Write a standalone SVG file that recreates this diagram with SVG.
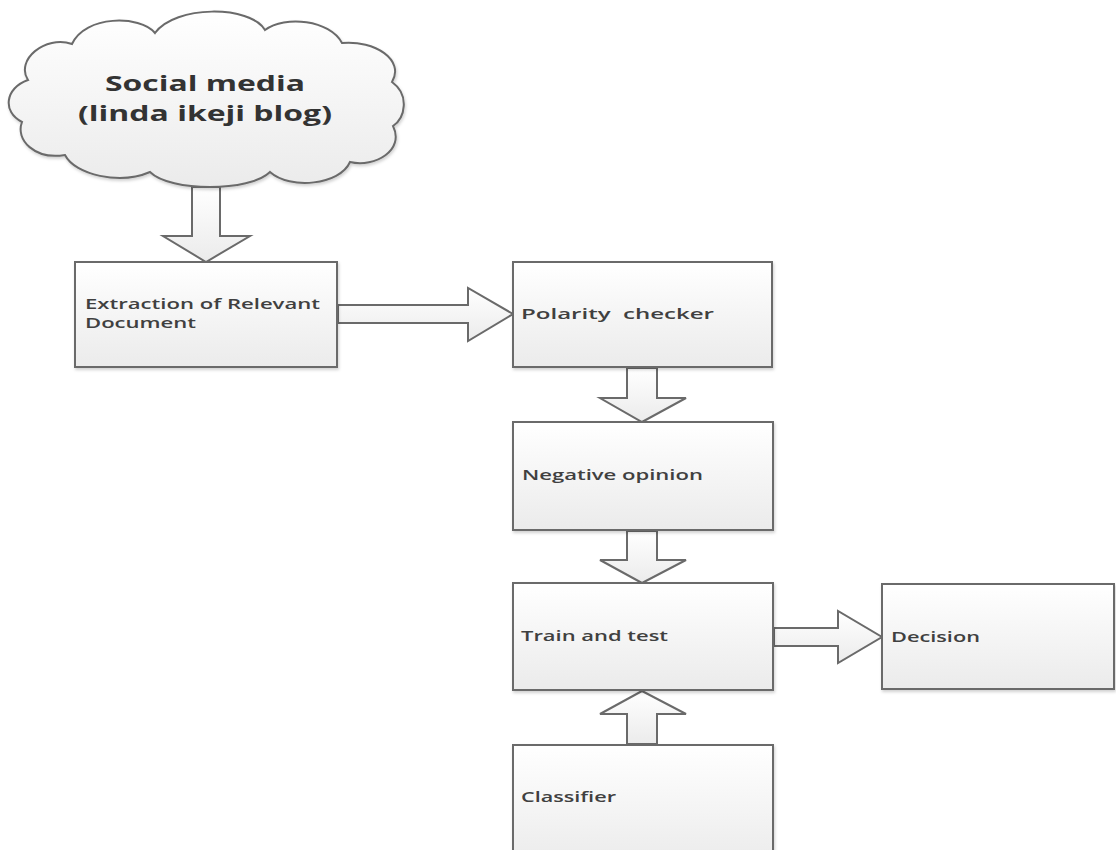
<svg xmlns="http://www.w3.org/2000/svg" width="1116" height="850" viewBox="0 0 1116 850">
<defs>
<linearGradient id="g" x1="0" y1="0" x2="0" y2="1">
<stop offset="0" stop-color="#ffffff"/>
<stop offset="1" stop-color="#ebebeb"/>
</linearGradient>
<filter id="sh" x="-5%" y="-5%" width="110%" height="115%">
<feDropShadow dx="1" dy="2" stdDeviation="1.5" flood-color="#000" flood-opacity="0.18"/>
</filter>
</defs>
<style>
.box{fill:url(#g);stroke:#6a6a6a;stroke-width:2;filter:url(#sh)}
.arr{fill:url(#g);stroke:#6a6a6a;stroke-width:2}
.t{font-family:"Open Sans","Liberation Sans",sans-serif;font-size:15px;font-weight:600;fill:#404040;white-space:pre}
.ct{font-family:"Open Sans","Liberation Sans",sans-serif;font-size:21px;font-weight:700;fill:#333;text-anchor:middle}
</style>
<rect width="1116" height="850" fill="#fff"/>
<g id="connectors">
<path class="arr" d="M192,187 L220,187 L220,236 L250,236 L206,262 L163,236 L192,236 Z"/>
<path class="arr" d="M338,305 L468,305 L468,288 L513,314 L468,341 L468,323 L338,323 Z"/>
<path class="arr" d="M627,368 L657,368 L657,398 L686,398 L642,422 L600,398 L627,398 Z"/>
<path class="arr" d="M627,531 L657,531 L657,560 L686,560 L642,583 L600,560 L627,560 Z"/>
<path class="arr" d="M774,628 L838,628 L838,611 L882,637 L838,663 L838,646 L774,646 Z"/>
<path class="arr" d="M627,744 L657,744 L657,714 L686,714 L642,691 L600,714 L627,714 Z"/>
</g>
<g id="cloud">
<path class="box" d="M28,80 C15,60 45,35 72,44 C85,15 140,15 155,33 C175,5 250,5 265,30 C285,15 330,20 342,43 C375,40 405,60 392,82 C410,95 405,118 393,126 C405,150 375,168 350,162 C340,185 290,190 270,172 C250,192 170,192 150,172 C120,185 75,175 65,155 C35,160 15,140 22,122 C2,112 5,88 28,80 Z"/>
<text class="ct" x="205" y="91" textLength="200" lengthAdjust="spacingAndGlyphs">Social media</text>
<text class="ct" x="205" y="121" textLength="254" lengthAdjust="spacingAndGlyphs">(linda ikeji blog)</text>
</g>
<g id="extraction">
<rect class="box" x="75" y="262" width="262" height="105"/>
<text class="t" x="85" y="309" textLength="235" lengthAdjust="spacingAndGlyphs">Extraction of Relevant</text>
<text class="t" x="85" y="328" textLength="111" lengthAdjust="spacingAndGlyphs">Document</text>
</g>
<g id="polarity">
<rect class="box" x="513" y="262" width="259" height="105"/>
<text class="t" x="521" y="319" textLength="193" lengthAdjust="spacingAndGlyphs">Polarity  checker</text>
</g>
<g id="negative">
<rect class="box" x="513" y="422" width="260" height="108"/>
<text class="t" x="522" y="480" textLength="181" lengthAdjust="spacingAndGlyphs">Negative opinion</text>
</g>
<g id="train">
<rect class="box" x="513" y="583" width="260" height="107"/>
<text class="t" x="521" y="641" textLength="147" lengthAdjust="spacingAndGlyphs">Train and test</text>
</g>
<g id="decision">
<rect class="box" x="882" y="584" width="232" height="105"/>
<text class="t" x="891" y="642" textLength="89" lengthAdjust="spacingAndGlyphs">Decision</text>
</g>
<g id="classifier">
<rect class="box" x="513" y="745" width="260" height="120"/>
<text class="t" x="521" y="802" textLength="95" lengthAdjust="spacingAndGlyphs">Classifier</text>
</g>
</svg>
